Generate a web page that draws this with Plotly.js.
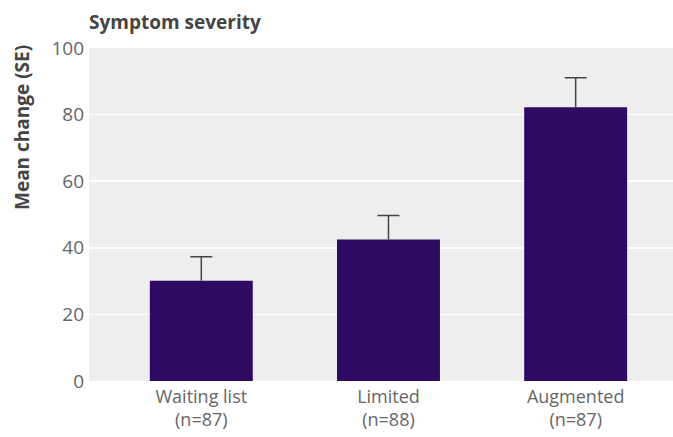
<!DOCTYPE html>
<html>
<head>
<meta charset="utf-8">
<script src="https://cdn.plot.ly/plotly-3.0.1.min.js"></script>
<style>html,body{margin:0;padding:0;background:#fff;}#chart{width:673px;height:437px;}</style>
</head>
<body>
<div id="chart"></div>
<script>
const categories = ["Waiting list<br>(n=87)", "Limited<br>(n=88)", "Augmented<br>(n=87)"];
const meanChange = [30.1, 42.5, 82.2];
const seUpper = [7.2, 7.2, 8.9];
const seLower = [0, 0, 0];
const yTicks = [0, 20, 40, 60, 80, 100];

const trace = {
  type: 'bar',
  x: categories,
  y: meanChange,
  width: 0.55,
  marker: {color: '#2f0a62'},
  error_y: {type: 'data', symmetric: false, array: seUpper, arrayminus: seLower,
            color: '#444', thickness: 1.5, width: 11},
  hoverinfo: 'none'
};

const layout = {
  width: 673, height: 437,
  margin: {l: 89, r: 0, t: 48, b: 56},
  paper_bgcolor: '#ffffff',
  plot_bgcolor: '#eeeeee',
  showlegend: false,
  font: {family: 'Open Sans, sans-serif', color: '#666'},
  title: {text: '<b>Symptom severity</b>', x: 89/673, xanchor: 'left', xref: 'container',
          y: 1 - 22/437, yanchor: 'middle', yref: 'container',
          font: {size: 19, color: '#444', family: 'Open Sans, sans-serif'}},
  xaxis: {range: [-0.6, 2.52], showgrid: false, zeroline: false, showline: false,
          ticks: '', tickfont: {size: 18, color: '#666'}, ticklabelstandoff: 3},
  yaxis: {range: [0, 100], tickvals: yTicks, showgrid: true, gridcolor: '#ffffff', gridwidth: 1.5,
          zeroline: false, showline: false, ticks: '', tickfont: {size: 19, color: '#666'},
          ticklabelstandoff: 4},
  annotations: [{
    text: '<b>Mean change (SE)</b>', textangle: -90, xref: 'paper', yref: 'paper',
    x: 0, xshift: -67, y: (381 - 128) / 333, xanchor: 'center', yanchor: 'middle',
    showarrow: false, font: {size: 19, color: '#444', family: 'Open Sans, sans-serif'}
  }]
};

Plotly.newPlot('chart', [trace], layout, {displayModeBar: false, staticPlot: true}).then(function (gd) {
  // error bars show only the upper half: drop the lower cap that sits on the bar top
  gd.querySelectorAll('.errorbar path').forEach(function (p) {
    const d = p.getAttribute('d');
    p.setAttribute('d', d.replace(/m-[\d.]+,0h[\d.]+$/, ''));
  });
});
</script>
</body>
</html>
